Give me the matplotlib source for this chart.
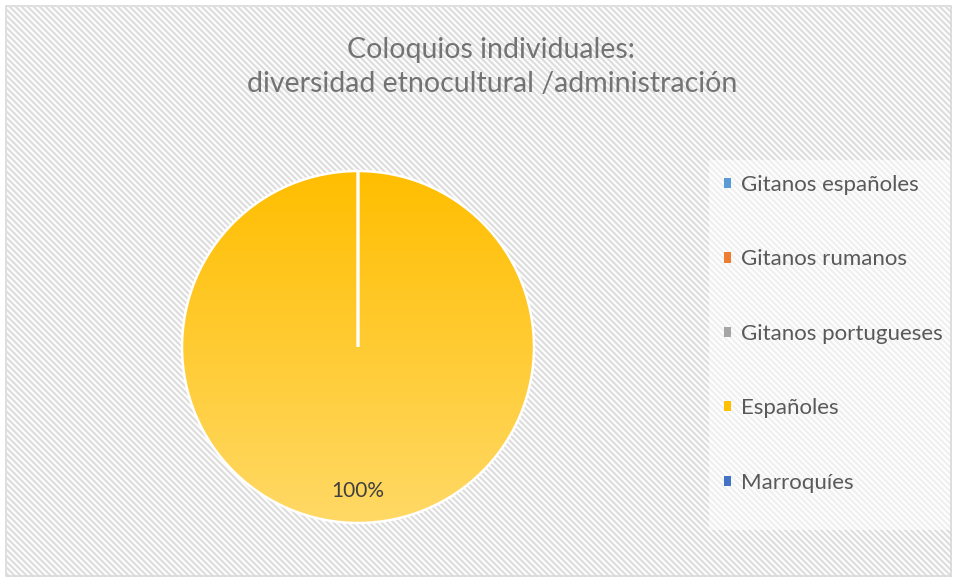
import numpy as np
import matplotlib
matplotlib.use("Agg")
import matplotlib.pyplot as plt
from matplotlib.patches import Patch, Rectangle
from matplotlib.colors import LinearSegmentedColormap

# ---- data ----
title_lines = ["Coloquios individuales:", "diversidad etnocultural /administración"]
categories = ["Gitanos españoles", "Gitanos rumanos", "Gitanos portugueses", "Españoles", "Marroquíes"]
values = [0, 0, 0, 100, 0]
colors = ["#5B9BD5", "#ED7D31", "#A5A5A5", "#FFC000", "#4472C4"]

plt.rcParams['font.family'] = ['Lato', 'DejaVu Sans']

W, H = 956, 581
fig = plt.figure(figsize=(W / 100, H / 100), dpi=100)
fig.patch.set_facecolor("white")

# ---- hatched background ----
bg = fig.add_axes([0, 0, 1, 1])
bg.set_xlim(0, W)
bg.set_ylim(H, 0)
bg.axis("off")
yy, xx = np.mgrid[0:H, 0:W]
phase = (xx - yy) % 6.0
pattern = 237 + 19 * np.cos(2 * np.pi * phase / 6.0)
pattern = np.clip(pattern, 0, 255)
img = np.full((H, W), 255.0)
inside = (xx >= 7) & (xx <= 951) & (yy >= 7) & (yy <= 576)
img[inside] = pattern[inside]
bg.imshow(img, cmap="gray", vmin=0, vmax=255, extent=(0, W, H, 0), interpolation="nearest", zorder=0)
bg.add_patch(Rectangle((6, 6), 945, 570, fill=False, edgecolor="#D9D9D9", lw=1.2, zorder=2))
# legend background panel
bg.add_patch(Rectangle((709, 160), 243, 370, facecolor="white", alpha=0.55, edgecolor="none", zorder=1))

# ---- title ----
fig.text(491 / W, 1 - 58 / H, title_lines[0], ha="center", va="baseline", fontsize=20.5, color="#737373")
fig.text(492 / W, 1 - 92 / H, title_lines[1], ha="center", va="baseline", fontsize=20.5, color="#737373")

# ---- pie ----
cx, cy, R = 358, 347, 176
pad = 1.02
ax = fig.add_axes([(cx - R * pad) / W, (H - cy - R * pad) / H, 2 * R * pad / W, 2 * R * pad / H])
ax.set_facecolor("none")

def fmt(p):
    return f"{p:.0f}%" if p > 0 else ""

wedges, texts, autotexts = ax.pie(
    values, colors=colors, startangle=90, counterclock=False,
    autopct=fmt, pctdistance=0.82,
    wedgeprops=dict(edgecolor="white", linewidth=1.8),
    textprops=dict(fontsize=15, color="#404040"),
)

main = wedges[int(np.argmax(values))]
main.set_facecolor("none")
grad_cmap = LinearSegmentedColormap.from_list("g", ["#FFD966", "#FFBE00"])
grad = np.linspace(0, 1, 256).reshape(-1, 1)
im = ax.imshow(grad, cmap=grad_cmap, extent=(-1, 1, -1, 1), origin="lower",
               aspect="auto", zorder=0.5)
im.set_clip_path(main)
ax.set_xlim(-pad, pad)
ax.set_ylim(-pad, pad)
ax.set_aspect("equal")
for t in autotexts:
    t.set_zorder(5)

# ---- legend ----
handles = [Patch(facecolor=c, edgecolor="none") for c in colors]
fig.legend(handles, categories, loc="upper left",
           bbox_to_anchor=(724 / W, 1 - 175 / H),
           frameon=False, fontsize=16, labelcolor="#595959",
           handlelength=0.33, handleheight=0.33, handletextpad=0.45,
           labelspacing=2.45, borderpad=0, borderaxespad=0)

fig.savefig("out.png", dpi=100, facecolor="white")
